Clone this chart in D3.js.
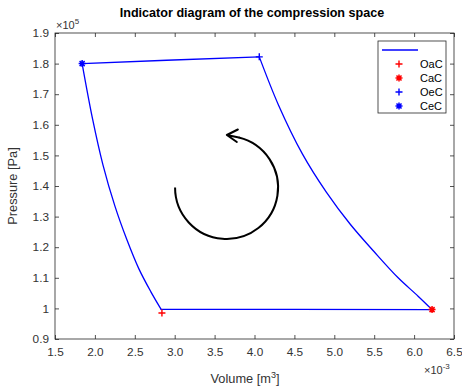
<!DOCTYPE html>
<html>
<head>
<meta charset="utf-8">
<script src="https://cdn.jsdelivr.net/npm/d3@7"></script>
<style>
  html, body { margin: 0; padding: 0; background: #fff; }
  svg { display: block; font-family: "Liberation Sans", Arial, sans-serif; }
</style>
</head>
<body>
<svg id="chart" width="462" height="389"></svg>
<script>
// Cycle path of the compression space: volume in 1e-3 m^3, pressure in 1e5 Pa
// Segments: top (CeC -> OeC), expansion (OeC -> CaC), bottom (CaC -> OaC), compression (OaC -> CeC)
const topVolume = [1.84, 2.90, 4.06];
const topPressure = [1.800, 1.811, 1.822];
const expansionVolume = [4.06, 4.30, 4.60, 4.90, 5.20, 5.50, 5.80, 6.05, 6.225];
const expansionPressure = [1.822, 1.665, 1.505, 1.380, 1.275, 1.185, 1.100, 1.040, 0.996];
const bottomVolume = [6.225, 4.50, 2.83];
const bottomPressure = [0.996, 0.997, 0.997];
const compressionVolume = [2.83, 2.70, 2.55, 2.40, 2.25, 2.10, 1.97, 1.84];
const compressionPressure = [0.997, 1.055, 1.130, 1.225, 1.335, 1.470, 1.620, 1.800];

// Valve events
const eventNames = ["OaC", "CaC", "OeC", "CeC"];
const eventVolume = [2.84, 6.225, 4.06, 1.84];
const eventPressure = [0.985, 0.996, 1.822, 1.800];
const eventColor = ["#ff0000", "#ff0000", "#0000ff", "#0000ff"];
const eventShape = ["plus", "star", "plus", "star"];

// Axis ticks
const xTicks = [1.5, 2, 2.5, 3, 3.5, 4, 4.5, 5, 5.5, 6, 6.5];
const yTicks = [0.9, 1, 1.1, 1.2, 1.3, 1.4, 1.5, 1.6, 1.7, 1.8, 1.9];

const svg = d3.select("#chart");
const axisColor = "#262626";
const L = 55, R = 454, T = 33, B = 339;

const x = d3.scaleLinear().domain([1.5, 6.5]).range([L, R]);
const y = d3.scaleLinear().domain([0.9, 1.9]).range([B, T]);

// Title
svg.append("text")
  .attr("x", 252).attr("y", 17)
  .attr("text-anchor", "middle")
  .attr("font-size", 12.6).attr("font-weight", "bold")
  .attr("fill", "#000")
  .text("Indicator diagram of the compression space");

// Plot frame
svg.append("rect")
  .attr("x", L).attr("y", T).attr("width", R - L).attr("height", B - T)
  .attr("fill", "#fff").attr("stroke", axisColor).attr("stroke-width", 0.8);

const fmt = d => (d === 1 ? "1" : d3.format(".1f")(d));

// Axes with inward ticks on all four sides
const ax = svg.append("g").attr("transform", `translate(0,${B})`)
  .call(d3.axisBottom(x).tickValues(xTicks).tickFormat(fmt).tickSizeInner(-4).tickSizeOuter(0).tickPadding(9));
const axTop = svg.append("g").attr("transform", `translate(0,${T})`)
  .call(d3.axisTop(x).tickValues(xTicks).tickFormat("").tickSizeInner(-4).tickSizeOuter(0));
const ay = svg.append("g").attr("transform", `translate(${L},0)`)
  .call(d3.axisLeft(y).tickValues(yTicks).tickFormat(fmt).tickSizeInner(-4).tickSizeOuter(0).tickPadding(6));
const ayR = svg.append("g").attr("transform", `translate(${R},0)`)
  .call(d3.axisRight(y).tickValues(yTicks).tickFormat("").tickSizeInner(-4).tickSizeOuter(0));

[ax, axTop, ay, ayR].forEach(g => {
  g.select(".domain").remove();
  g.selectAll("line").attr("stroke", axisColor).attr("stroke-width", 0.8);
  g.selectAll("text").attr("fill", "#333").attr("font-size", 11.8)
    .attr("font-family", "Liberation Sans, Arial, sans-serif");
});

// Exponent labels
const e5 = svg.append("text").attr("x", 56).attr("y", 29).attr("fill", "#333").attr("font-size", 11);
e5.append("tspan").text("\u00d710");
e5.append("tspan").attr("dy", -5).attr("font-size", 8).text("5");
const e3 = svg.append("text").attr("x", 424).attr("y", 374).attr("fill", "#333").attr("font-size", 11);
e3.append("tspan").text("\u00d710");
e3.append("tspan").attr("dy", -5).attr("font-size", 8).text("-3");

// Axis titles
const xl = svg.append("text").attr("x", 245).attr("y", 383).attr("text-anchor", "middle")
  .attr("fill", "#333").attr("font-size", 12.8);
xl.append("tspan").text("Volume [m");
xl.append("tspan").attr("dy", -5).attr("font-size", 9).text("3");
xl.append("tspan").attr("dy", 5).text("]");

svg.append("text")
  .attr("transform", `translate(17,${(T + B) / 2}) rotate(-90)`)
  .attr("text-anchor", "middle").attr("fill", "#333").attr("font-size", 12.8)
  .text("Pressure [Pa]");

// Cycle line, drawn segment by segment so the corners stay sharp
const segments = [
  [topVolume, topPressure, d3.curveLinear],
  [expansionVolume, expansionPressure, d3.curveCatmullRom],
  [bottomVolume, bottomPressure, d3.curveLinear],
  [compressionVolume, compressionPressure, d3.curveCatmullRom]
];
segments.forEach(([vs, ps, curve]) => {
  const line = d3.line().curve(curve).x((d, i) => x(vs[i])).y((d, i) => y(ps[i]));
  svg.append("path")
    .datum(vs)
    .attr("d", line)
    .attr("fill", "none").attr("stroke", "#0000ff").attr("stroke-width", 1.3)
    .attr("stroke-linejoin", "round").attr("stroke-linecap", "round");
});

// Marker glyphs
function marker(g, shape, color) {
  const s = 3.5;
  if (shape === "plus") {
    g.append("path").attr("d", `M${-s},0H${s}M0,${-s}V${s}`)
      .attr("stroke", color).attr("stroke-width", 1.4).attr("fill", "none");
  } else {
    const d = s * 0.72;
    g.append("path")
      .attr("d", `M${-s},0H${s}M0,${-s}V${s}M${-d},${-d}L${d},${d}M${-d},${d}L${d},${-d}`)
      .attr("stroke", color).attr("stroke-width", 1.5).attr("fill", "none");
    g.append("circle").attr("r", 2).attr("fill", color);
  }
}

eventNames.forEach((n, i) => {
  const g = svg.append("g").attr("transform", `translate(${x(eventVolume[i])},${y(eventPressure[i])})`);
  marker(g, eventShape[i], eventColor[i]);
});

// Direction of the cycle
const arrowCenter = [3.65, 1.395];
const cx = x(arrowCenter[0]), cy = y(arrowCenter[1]), r = 51.5;
const a1 = -1.33;
const p = d3.path();
p.arc(cx, cy, r, Math.PI, a1, true);
svg.append("path").attr("d", p.toString())
  .attr("fill", "none").attr("stroke", "#000").attr("stroke-width", 2);
const ex = cx + r * Math.cos(a1), ey = cy + r * Math.sin(a1);
const tx = ex - 12, ty = ey - 2.5;
svg.append("path")
  .attr("d", `M${ex},${ey}L${tx},${ty}M${tx + 11},${ty - 5.5}L${tx},${ty}L${tx + 10},${ty + 7}`)
  .attr("fill", "none").attr("stroke", "#000").attr("stroke-width", 2)
  .attr("stroke-linejoin", "round").attr("stroke-linecap", "round");

// Legend
const lg = svg.append("g");
lg.append("rect").attr("x", 378).attr("y", 41).attr("width", 68).attr("height", 72)
  .attr("fill", "#fff").attr("stroke", axisColor).attr("stroke-width", 0.8);
lg.append("line").attr("x1", 382).attr("x2", 418).attr("y1", 50).attr("y2", 50)
  .attr("stroke", "#0000ff").attr("stroke-width", 1.3);
eventNames.forEach((n, i) => {
  const yy = 64 + i * 14;
  const g = lg.append("g").attr("transform", `translate(399,${yy})`);
  marker(g, eventShape[i], eventColor[i]);
  lg.append("text").attr("x", 420).attr("y", yy + 4).attr("font-size", 11).attr("fill", "#000").text(n);
});
</script>
</body>
</html>
